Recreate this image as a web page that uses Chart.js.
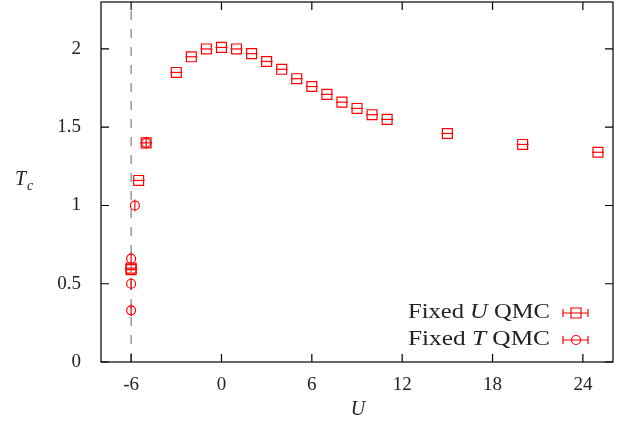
<!DOCTYPE html>
<html>
<head>
<meta charset="utf-8">
<script src="https://cdn.jsdelivr.net/npm/chart.js@4.4.1/dist/chart.umd.min.js"></script>
<style>
  html, body { margin: 0; padding: 0; background: #fff; }
  #wrap { width: 622px; height: 427px; position: relative; }
</style>
</head>
<body>
<div id="wrap"><canvas id="c"></canvas></div>
<script>
// fixed U QMC (squares)
const uFixedU = [-6, -6, -5.5, -5, -3, -2, -1, 0, 1, 2, 3, 4, 5, 6, 7, 8, 9, 10, 11, 15, 20, 25];
const tcFixedU = [0.59, 0.60, 1.16, 1.40, 1.85, 1.95, 2.00, 2.01, 2.00, 1.97, 1.92, 1.87, 1.81, 1.76, 1.71, 1.66, 1.62, 1.58, 1.55, 1.46, 1.39, 1.34];

// fixed T QMC (circles)
const uFixedT = [-6, -6, -6, -5.75, -5];
const tcFixedT = [0.33, 0.50, 0.66, 1.00, 1.40];

// dashed line at U = -6
const dashU = [-6, -6];
const dashT = [0, 2.3];

const xTicks = [-6, 0, 6, 12, 18, 24];
const yTicks = [0, 0.5, 1, 1.5, 2];
const legendLabels = [["Fixed ", "U", " QMC"], ["Fixed ", "T", " QMC"]];

const RED = "#ff0000";
const SERIF = "'Liberation Serif', 'DejaVu Serif', serif";

const toXY = (xs, ys) => xs.map((x, i) => ({ x: x, y: ys[i] }));

const noPad = (s) => { s.paddingTop = 0; s.paddingBottom = 0; s.paddingLeft = 0; s.paddingRight = 0; };

// frame, inward ticks, error bars, legend, axis titles
const decor = {
  id: "decor",
  afterDatasetsDraw(chart) {
    const { ctx, chartArea: a, scales } = chart;
    ctx.save();

    // error bars through markers
    ctx.strokeStyle = RED;
    ctx.lineWidth = 1.2;
    chart.getDatasetMeta(1).data.forEach((p) => {
      ctx.beginPath();
      ctx.moveTo(p.x - 6, p.y); ctx.lineTo(p.x + 6, p.y);
      ctx.stroke();
    });
    chart.getDatasetMeta(2).data.forEach((p) => {
      ctx.beginPath();
      ctx.moveTo(p.x, p.y - 6); ctx.lineTo(p.x, p.y + 6);
      ctx.stroke();
    });

    // frame
    ctx.strokeStyle = "#000";
    ctx.lineWidth = 1.2;
    ctx.strokeRect(a.left, a.top, a.right - a.left, a.bottom - a.top);

    // inward ticks on all sides
    const tl = 8;
    ctx.beginPath();
    xTicks.forEach((v) => {
      const px = scales.x.getPixelForValue(v);
      ctx.moveTo(px, a.bottom); ctx.lineTo(px, a.bottom - tl);
      ctx.moveTo(px, a.top); ctx.lineTo(px, a.top + tl);
    });
    yTicks.forEach((v) => {
      const py = scales.y.getPixelForValue(v);
      ctx.moveTo(a.left, py); ctx.lineTo(a.left + tl, py);
      ctx.moveTo(a.right, py); ctx.lineTo(a.right - tl, py);
    });
    ctx.stroke();

    // axis titles
    ctx.fillStyle = "#222";
    ctx.textBaseline = "middle";
    ctx.font = "italic 20px " + SERIF;
    ctx.textAlign = "center";
    ctx.fillText("U", (a.left + a.right) / 2 + 1, 410);
    ctx.textAlign = "left";
    ctx.fillText("T", 15, 180);
    ctx.font = "italic 14px " + SERIF;
    ctx.fillText("c", 27, 186);

    // legend (text stretched to the wider look of the original)
    legendLabels.forEach((parts, i) => {
      const y = 313 + i * 27;
      const fonts = ["20px " + SERIF, "italic 20px " + SERIF, "20px " + SERIF];
      let w = 0;
      parts.forEach((t, j) => { ctx.font = fonts[j]; w += ctx.measureText(t).width; });
      const sx = 142 / w;
      ctx.save();
      ctx.translate(550 - 142, y);
      ctx.scale(sx, 1);
      ctx.textAlign = "left";
      let x = 0;
      parts.forEach((t, j) => {
        ctx.font = fonts[j];
        ctx.fillText(t, x, 0);
        x += ctx.measureText(t).width;
      });
      ctx.restore();
      // sample
      ctx.strokeStyle = RED;
      ctx.lineWidth = 1.2;
      ctx.beginPath();
      ctx.moveTo(563, y); ctx.lineTo(588, y);
      ctx.moveTo(563, y - 4); ctx.lineTo(563, y + 4);
      ctx.moveTo(588, y - 4); ctx.lineTo(588, y + 4);
      ctx.stroke();
      ctx.beginPath();
      if (i === 0) ctx.rect(571, y - 5, 10, 10);
      else ctx.arc(576, y, 4.5, 0, Math.PI * 2);
      ctx.stroke();
    });

    ctx.restore();
  }
};

new Chart(document.getElementById("c"), {
  type: "scatter",
  data: {
    datasets: [
      {
        type: "line",
        data: toXY(dashU, dashT),
        borderColor: "#666",
        borderWidth: 1,
        borderDash: [9, 9],
        pointRadius: 0,
        fill: false,
      },
      {
        data: toXY(uFixedU, tcFixedU),
        pointStyle: "rect",
        pointRadius: 7,
        borderColor: RED,
        borderWidth: 1.2,
        backgroundColor: "rgba(0,0,0,0)",
      },
      {
        data: toXY(uFixedT, tcFixedT),
        pointStyle: "circle",
        pointRadius: 4.5,
        borderColor: RED,
        borderWidth: 1.2,
        backgroundColor: "rgba(0,0,0,0)",
      },
    ],
  },
  options: {
    responsive: true,
    maintainAspectRatio: false,
    animation: false,
    layout: { autoPadding: false, padding: { top: 2, right: 9, left: 0, bottom: 0 } },
    plugins: { legend: { display: false }, tooltip: { enabled: false } },
    scales: {
      x: {
        type: "linear",
        min: -8,
        max: 26,
        afterBuildTicks: (s) => { s.ticks = xTicks.map((v) => ({ value: v })); },
        afterFit: (s) => { s.height = 65; noPad(s); },
        grid: { display: false },
        border: { display: false },
        ticks: { color: "#222", font: { family: SERIF, size: 19 }, padding: 4, maxRotation: 0,
                 callback: (v) => String(v) },
      },
      y: {
        min: 0,
        max: 2.3,
        afterBuildTicks: (s) => { s.ticks = yTicks.map((v) => ({ value: v })); },
        afterFit: (s) => { s.width = 101; noPad(s); },
        grid: { display: false },
        border: { display: false },
        ticks: { color: "#222", font: { family: SERIF, size: 19 }, padding: 12,
                 callback: (v) => String(v) },
      },
    },
  },
  plugins: [decor],
});
</script>
</body>
</html>
